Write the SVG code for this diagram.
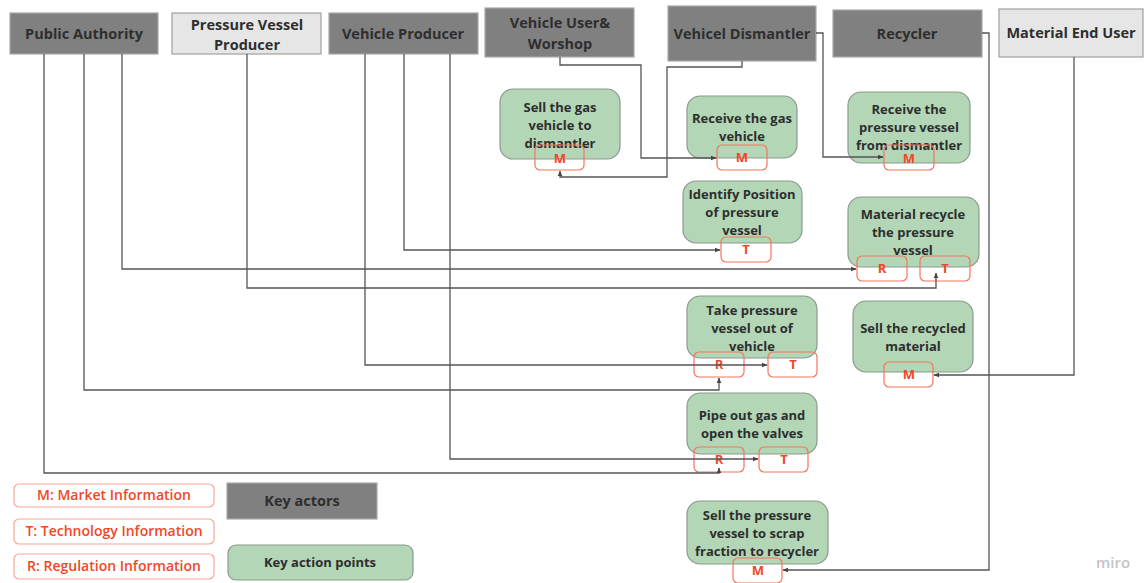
<svg xmlns="http://www.w3.org/2000/svg" width="1147" height="583" viewBox="0 0 1147 583">
  <defs>
    <marker id="arrow" viewBox="0 0 10 10" refX="9" refY="5" markerWidth="6" markerHeight="6" orient="auto" markerUnits="userSpaceOnUse">
      <path d="M0,1 L10,5 L0,9 z" fill="#444"/>
    </marker>
    <style>
      text { font-family: "Open Sans", "Noto Sans", "Liberation Sans", sans-serif; font-weight: 700; text-anchor: middle; }
      .actor { fill: #808080; stroke: #a8a8a8; stroke-width: 1.2; }
      .actor-light { fill: #e6e6e6; stroke: #a0a0a0; stroke-width: 1.2; }
      .actor-text { font-size: 14.5px; fill: #2e2e2e; }
      .action { fill: #b2d6b6; stroke: #8c9a8e; stroke-width: 1.2; }
      .action-text { font-size: 13px; fill: #2e2e2e; }
      .tag { fill: none; stroke: #f3765c; stroke-width: 1.2; }
      .tag-text { font-size: 13px; fill: #f24726; }
      .legend-box { fill: #ffffff; stroke: #f8a593; stroke-width: 1.2; }
      .legend-text { font-size: 14px; fill: #f24726; font-weight: 600; }
      .conn { fill: none; stroke: #555555; stroke-width: 1.3; }
      .conn-arrow { fill: none; stroke: #555555; stroke-width: 1.3; marker-end: url(#arrow); }
    </style>
  </defs>

  <rect width="1147" height="583" fill="#ffffff"/>

  <!-- Key actors -->
  <g id="public-authority">
    <rect class="actor" x="10" y="13" width="148" height="41"/>
    <text class="actor-text" x="84" y="39">Public Authority</text>
  </g>
  <g id="pressure-vessel-producer">
    <rect class="actor-light" x="172" y="13" width="149" height="41"/>
    <text class="actor-text" x="247" y="30">Pressure Vessel</text>
    <text class="actor-text" x="247" y="50">Producer</text>
  </g>
  <g id="vehicle-producer">
    <rect class="actor" x="329" y="13" width="149" height="41"/>
    <text class="actor-text" x="403" y="39">Vehicle Producer</text>
  </g>
  <g id="vehicle-user-workshop">
    <rect class="actor" x="485" y="8" width="149" height="49"/>
    <text class="actor-text" x="560" y="28">Vehicle User&amp;</text>
    <text class="actor-text" x="560" y="49">Worshop</text>
  </g>
  <g id="vehicle-dismantler">
    <rect class="actor" x="668" y="6" width="148" height="55"/>
    <text class="actor-text" x="742" y="39">Vehicel Dismantler</text>
  </g>
  <g id="recycler">
    <rect class="actor" x="833" y="10" width="149" height="47"/>
    <text class="actor-text" x="907" y="39">Recycler</text>
  </g>
  <g id="material-end-user">
    <rect class="actor-light" x="999" y="9" width="144" height="48"/>
    <text class="actor-text" x="1071" y="38">Material End User</text>
  </g>

  <!-- Key action points -->
  <g id="sell-gas-vehicle">
    <rect class="action" x="500" y="89" width="120" height="70" rx="13"/>
    <text class="action-text" x="560" y="112">Sell the gas</text>
    <text class="action-text" x="560" y="130">vehicle to</text>
    <text class="action-text" x="560" y="148">dismantler</text>
    <rect class="tag" x="535" y="145" width="49" height="25" rx="5"/>
    <text class="tag-text" x="560" y="163">M</text>
  </g>
  <g id="receive-gas-vehicle">
    <rect class="action" x="687" y="96" width="110" height="62" rx="13"/>
    <text class="action-text" x="742" y="123">Receive the gas</text>
    <text class="action-text" x="742" y="141">vehicle</text>
    <rect class="tag" x="717" y="145" width="50" height="25" rx="5"/>
    <text class="tag-text" x="742" y="162">M</text>
  </g>
  <g id="identify-position">
    <rect class="action" x="683" y="181" width="119" height="62" rx="13"/>
    <text class="action-text" x="742" y="199">Identify Position</text>
    <text class="action-text" x="742" y="217">of pressure</text>
    <text class="action-text" x="742" y="235">vessel</text>
    <rect class="tag" x="721" y="237" width="50" height="25" rx="5"/>
    <text class="tag-text" x="746" y="254">T</text>
  </g>
  <g id="receive-pressure-vessel">
    <rect class="action" x="848" y="92" width="122" height="71" rx="13"/>
    <text class="action-text" x="909" y="114">Receive the</text>
    <text class="action-text" x="909" y="132">pressure vessel</text>
    <text class="action-text" x="909" y="150">from dismantler</text>
    <rect class="tag" x="884" y="145" width="50" height="25" rx="5"/>
    <text class="tag-text" x="909" y="163">M</text>
  </g>
  <g id="material-recycle">
    <rect class="action" x="848" y="197" width="131" height="70" rx="13"/>
    <text class="action-text" x="913" y="219">Material recycle</text>
    <text class="action-text" x="913" y="237">the pressure</text>
    <text class="action-text" x="913" y="255">vessel</text>
    <rect class="tag" x="857" y="256" width="50" height="25" rx="5"/>
    <text class="tag-text" x="882" y="273">R</text>
    <rect class="tag" x="920" y="256" width="50" height="25" rx="5"/>
    <text class="tag-text" x="945" y="273">T</text>
  </g>
  <g id="take-vessel-out">
    <rect class="action" x="687" y="296" width="130" height="62" rx="13"/>
    <text class="action-text" x="752" y="315">Take pressure</text>
    <text class="action-text" x="752" y="333">vessel out of</text>
    <text class="action-text" x="752" y="351">vehicle</text>
    <rect class="tag" x="694" y="352" width="50" height="25" rx="5"/>
    <text class="tag-text" x="719" y="369">R</text>
    <rect class="tag" x="768" y="352" width="49" height="25" rx="5"/>
    <text class="tag-text" x="793" y="369">T</text>
  </g>
  <g id="sell-recycled-material">
    <rect class="action" x="853" y="301" width="120" height="71" rx="13"/>
    <text class="action-text" x="913" y="333">Sell the recycled</text>
    <text class="action-text" x="913" y="351">material</text>
    <rect class="tag" x="884" y="362" width="49" height="25" rx="5"/>
    <text class="tag-text" x="909" y="379">M</text>
  </g>
  <g id="pipe-out-gas">
    <rect class="action" x="687" y="393" width="130" height="61" rx="13"/>
    <text class="action-text" x="752" y="420">Pipe out gas and</text>
    <text class="action-text" x="752" y="438">open the valves</text>
    <rect class="tag" x="694" y="447" width="50" height="25" rx="5"/>
    <text class="tag-text" x="719" y="464">R</text>
    <rect class="tag" x="759" y="447" width="49" height="25" rx="5"/>
    <text class="tag-text" x="784" y="464">T</text>
  </g>
  <g id="sell-vessel-scrap">
    <rect class="action" x="687" y="501" width="141" height="63" rx="13"/>
    <text class="action-text" x="757" y="520">Sell the pressure</text>
    <text class="action-text" x="757" y="538">vessel to scrap</text>
    <text class="action-text" x="757" y="556">fraction to recycler</text>
    <rect class="tag" x="733" y="558" width="49" height="25" rx="5"/>
    <text class="tag-text" x="758" y="575">M</text>
  </g>

  <!-- Information flows -->
  <g id="connectors">
    <path class="conn-arrow" d="M560 57 V65 H641 V158 H716"/>
    <path class="conn-arrow" d="M742 61 V67 H667 V177 H560 V171"/>
    <path class="conn-arrow" d="M816 33 H823 V157 H883"/>
    <path class="conn-arrow" d="M982 33 H989 V570 H783"/>
    <path class="conn-arrow" d="M1074 57 V375 H934"/>
    <path class="conn-arrow" d="M404 54 V250 H720"/>
    <path class="conn-arrow" d="M122 54 V269 H856"/>
    <path class="conn-arrow" d="M247 54 V288 H936 V273"/>
    <path class="conn-arrow" d="M365 54 V365 H767"/>
    <path class="conn-arrow" d="M84 54 V390 H719 V378"/>
    <path class="conn-arrow" d="M450 54 V459 H758"/>
    <path class="conn-arrow" d="M44 54 V473 H719 V468"/>
  </g>

  <!-- Legend -->
  <g id="legend-market">
    <rect class="legend-box" x="14" y="484" width="200" height="23" rx="5"/>
    <text class="legend-text" x="114" y="500">M: Market Information</text>
  </g>
  <g id="legend-technology">
    <rect class="legend-box" x="14" y="519" width="200" height="25" rx="5"/>
    <text class="legend-text" x="114" y="536">T: Technology Information</text>
  </g>
  <g id="legend-regulation">
    <rect class="legend-box" x="14" y="554" width="200" height="25" rx="5"/>
    <text class="legend-text" x="114" y="571">R: Regulation Information</text>
  </g>
  <g id="legend-key-actors">
    <rect class="actor" x="227" y="483" width="150" height="36"/>
    <text class="actor-text" x="302" y="506">Key actors</text>
  </g>
  <g id="legend-key-action-points">
    <rect class="action" x="228" y="545" width="185" height="35" rx="8"/>
    <text class="actor-text" x="320" y="567" style="font-size:13px;">Key action points</text>
  </g>

  <text x="1113" y="568" style="font-size:15px; fill:#c4c4c4; font-weight:600;">miro</text>
</svg>
